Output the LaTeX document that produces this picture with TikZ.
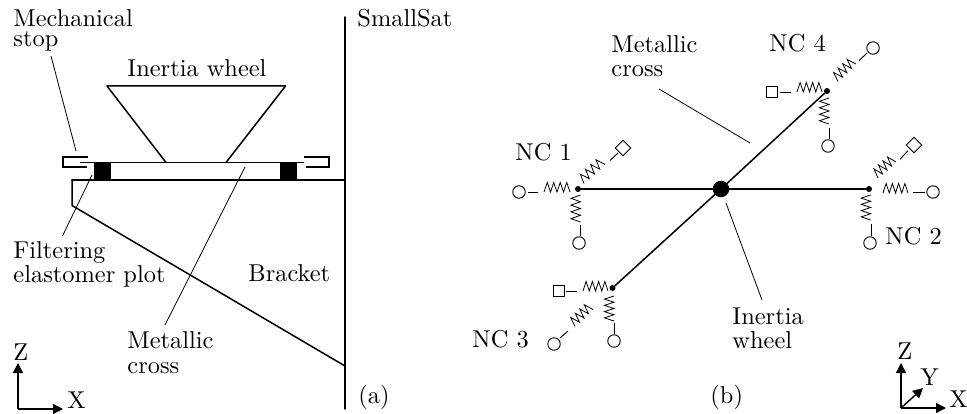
\documentclass[tikz,border=0pt]{standalone}
\usetikzlibrary{calc,arrows.meta}
\tikzset{
 x=1pt,y=-1pt,
 lbl/.style={inner sep=0pt,scale=2.44,transform shape,font=\fontsize{10}{10}\selectfont,align=left,anchor=base west},
 body/.style={line width=1.5pt,line cap=round,line join=round},
 lead/.style={line width=0.8pt},
 coil/.style={line width=0.8pt,line join=miter},
 stub/.style={line width=0.9pt},
 cir/.style={circle,draw,line width=0.9pt,minimum size=12.5pt,inner sep=0pt},
 sq/.style={rectangle,draw,line width=0.9pt,minimum size=11pt,inner sep=0pt},
 dia/.style={rectangle,draw,line width=0.9pt,minimum size=11pt,inner sep=0pt,rotate=45},
 joint/.style={circle,fill=black,minimum size=6pt,inner sep=0pt},
 hub/.style={circle,fill=black,minimum size=16.5pt,inner sep=0pt},
 axisarrow/.style={line width=1.4pt,-{Triangle[length=10pt,width=10pt]}},
}
% #1 name, #2 #3 ends of the coil (its teeth on the left of #2->#3), #4 #5 ends of the stub
\newcommand{\springstub}[5]{%
 \coordinate (#1a) at #2; \coordinate (#1b) at #3;
 \coordinate (#1c) at #4; \coordinate (#1d) at #5;
 \draw[coil] (#1a)
  -- ($(#1a)!.125!(#1b)!9.5pt!90:(#1b)$) -- ($(#1a)!.25!(#1b)$)
  -- ($(#1a)!.375!(#1b)!9.5pt!90:(#1b)$) -- ($(#1a)!.5!(#1b)$)
  -- ($(#1a)!.625!(#1b)!9.5pt!90:(#1b)$) -- ($(#1a)!.75!(#1b)$)
  -- ($(#1a)!.875!(#1b)!9.5pt!90:(#1b)$) -- (#1b);
 \draw[stub] (#1c) -- (#1d);}
\begin{document}
\begin{tikzpicture}
\useasboundingbox (0,0) rectangle (967,414);
% --- panel (a)
\draw[body] (345,17) -- (345,409);
\draw[body] (166,162.5) -- (107,86) -- (285.5,86) -- (226,162.5);
\draw[line width=1.2pt] (80,162.5) -- (304,162.5);
\draw[body] (72,180) -- (345,180);
\draw[body] (72,180) -- (72,205.5) -- (345,366);
\fill (94,163) rectangle (111,180);
\fill (280,163) rectangle (297,180);
\draw[line width=1.1pt] (88,157) -- (63,157) -- (63,167) -- (87,167);
\draw[line width=1.1pt] (304,157) -- (329,157) -- (329,167) -- (306,167);
% labels (a)
\node[lbl] (mstop) at (13,47) {Mechanical\\[-1.7pt]stop};
\node[lbl] (iw) at (127,77) {Inertia wheel};
\node[lbl] (ss) at (357,27) {SmallSat};
\node[lbl] (filt) at (13,283) {Filtering\\elastomer plot};
\node[lbl] (br) at (248,282) {Bracket};
\node[lbl] (mc) at (127,373) {Metallic\\cross};
\node[lbl] (pa) at (358,403) {(a)};
\coordinate (m1) at (51,56); \coordinate (m2) at (76,151);
\draw[lead] (m1) -- (m2);
\coordinate (f1) at (62.5,236); \coordinate (f2) at (92,175);
\draw[lead] (f1) -- (f2);
\coordinate (c1) at (165,325); \coordinate (c2) at (245,167);
\draw[lead] (c1) -- (c2);
% axes (a)
\coordinate (oa) at (18,409);
\coordinate (za) at (18,363);
\coordinate (xa) at (63,409);
\draw[axisarrow] (oa) -- (za);
\draw[axisarrow] (oa) -- (xa);
\node[lbl] (lza) at (13,360) {Z};
\node[lbl] (lxa) at (67,408) {X};
% --- panel (b)
\node[hub] (hubc) at (721,189) {};
\node[joint] (n1) at (578,189) {};
\node[joint] (n2) at (869,189) {};
\node[joint] (n3) at (612.5,288) {};
\node[joint] (n4) at (827,91) {};
\draw[body] (n1) -- (hubc);
\draw[body] (n2) -- (hubc);
\draw[body] (n3) -- (hubc);
\draw[body] (n4) -- (hubc);
% NC1
\node[cir] (a1) at (519,192) {};
\node[cir] (a2) at (579,243) {};
\node[dia] (a3) at (623,148) {};
\springstub{s11}{(544,192)}{(570,192)}{(528,192)}{(538,192)}
\springstub{s12}{(580.5,222)}{(580.5,195)}{(580,225)}{(580,236)}
\springstub{s13}{(584,183.5)}{(605,164.4)}{(610,160.5)}{(618,153)}
% NC2
\node[cir] (b1) at (933,192) {};
\node[cir] (b2) at (870,243) {};
\node[dia] (b3) at (914,145) {};
\springstub{s21}{(883,193)}{(908,193)}{(913,192.5)}{(925,192.5)}
\springstub{s22}{(870.7,220)}{(870.7,195)}{(871,224)}{(871,236)}
\springstub{s23}{(878,178)}{(896,162)}{(900,159.3)}{(908,150.7)}
% NC3
\node[sq] (c3) at (558.7,290.7) {};
\node[cir] (c4) at (614,341) {};
\node[cir] (c5) at (554,344) {};
\springstub{s31}{(583,291)}{(608,291)}{(566,291)}{(577,291)}
\springstub{s32}{(614,321)}{(614,296)}{(614,323)}{(614,334)}
\springstub{s33}{(575,326.5)}{(593,309.5)}{(560,338)}{(568,331)}
% NC4
\node[sq] (d1) at (772,92) {};
\node[cir] (d2) at (828,146) {};
\node[cir] (d3) at (873,48) {};
\springstub{s41}{(797,92)}{(822,92)}{(780,92)}{(791,92)}
\springstub{s42}{(829,124)}{(829,98)}{(829,128)}{(829,139)}
\springstub{s43}{(838,81.5)}{(856,64)}{(859,60.7)}{(867,53)}
% labels (b)
\node[lbl] (l1) at (515,161) {NC 1};
\node[lbl] (l2) at (885,245) {NC 2};
\node[lbl] (l3) at (472,347) {NC 3};
\node[lbl] (l4) at (769,52) {NC 4};
\node[lbl] (mc2) at (611,77) {Metallic\\cross};
\node[lbl] (iw2) at (732,348) {Inertia\\[-0.5pt]wheel};
\node[lbl] (pb) at (710,403) {(b)};
\coordinate (g1) at (659,89); \coordinate (g2) at (750,143);
\draw[lead] (g1) -- (g2);
\coordinate (h1) at (726,203); \coordinate (h2) at (762,300);
\draw[lead] (h1) -- (h2);
% axes (b)
\coordinate (ob) at (901,408);
\coordinate (zb) at (901,363);
\coordinate (xb) at (946,408);
\coordinate (yb) at (923,388);
\draw[axisarrow] (ob) -- (zb);
\draw[axisarrow] (ob) -- (xb);
\draw[axisarrow] (ob) -- (yb);
\node[lbl] (lzb) at (897,359) {Z};
\node[lbl] (lyb) at (920,385) {Y};
\node[lbl] (lxb) at (949,407) {X};
\end{tikzpicture}
\end{document}
